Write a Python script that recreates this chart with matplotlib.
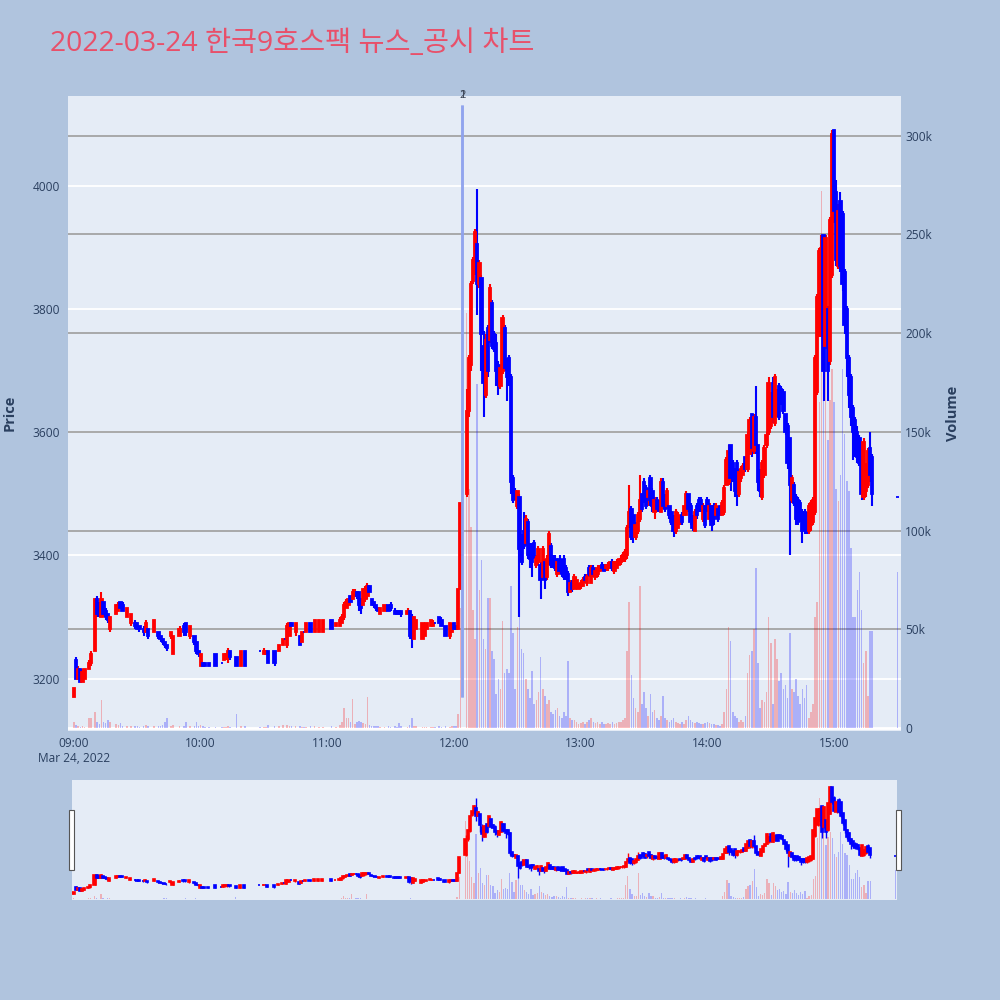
import numpy as np
import pandas as pd
import matplotlib
matplotlib.use("Agg")
import matplotlib.pyplot as plt
from matplotlib.patches import Rectangle
from matplotlib.transforms import blended_transform_factory

TITLE = "2022-03-24 한국9호스팩 뉴스_공시 차트"

# 1-minute candles (times with no trade are simply absent)
times = [
    # 09
    "09:00", "09:01", "09:02", "09:03", "09:04", "09:05", "09:07", "09:08", "09:10", "09:11",
    "09:12", "09:13", "09:14", "09:15", "09:16", "09:17", "09:20", "09:21", "09:22", "09:23",
    "09:25", "09:27", "09:29", "09:30", "09:31", "09:33", "09:34", "09:35", "09:38", "09:40",
    "09:41", "09:42", "09:43", "09:44", "09:46", "09:47", "09:50", "09:52", "09:53", "09:55",
    "09:57", "09:58", "09:59",
    # 10
    "10:00", "10:01", "10:02", "10:04", "10:07", "10:10", "10:11", "10:12", "10:13", "10:14",
    "10:17", "10:19", "10:21", "10:28", "10:30", "10:31", "10:32", "10:35", "10:37", "10:39",
    "10:40", "10:41", "10:42", "10:43", "10:45", "10:47", "10:48", "10:49", "10:50", "10:52",
    "10:54", "10:56", "10:58",
    # 11
    "11:02", "11:04", "11:06", "11:07", "11:08", "11:09", "11:10", "11:11", "11:12", "11:13",
    "11:14", "11:15", "11:16", "11:17", "11:18", "11:19", "11:20", "11:21", "11:22", "11:23",
    "11:24", "11:25", "11:27", "11:29", "11:30", "11:32", "11:33", "11:34", "11:35", "11:38",
    "11:39", "11:40", "11:41", "11:42", "11:45", "11:46", "11:47", "11:49", "11:50", "11:51",
    "11:53", "11:54", "11:56", "11:58", "11:59",
    # 12
    "12:00", "12:01", "12:02", "12:03",
    "12:06", "12:07", "12:08", "12:09", "12:10", "12:11", "12:12", "12:13", "12:14", "12:15",
    "12:16", "12:17", "12:18", "12:19", "12:20", "12:21", "12:22", "12:23", "12:24", "12:25",
    "12:26", "12:27", "12:28", "12:29", "12:30", "12:31", "12:32", "12:33", "12:34", "12:35",
    "12:36", "12:37", "12:38", "12:39", "12:40", "12:41", "12:42", "12:43", "12:44", "12:45",
    "12:46", "12:47", "12:48", "12:49", "12:50", "12:51", "12:52", "12:53", "12:54", "12:55",
    "12:56", "12:57", "12:58", "12:59",
    # 13
    "13:00", "13:01", "13:02", "13:03", "13:04", "13:05", "13:06", "13:07", "13:08", "13:09",
    "13:10", "13:11", "13:12", "13:13", "13:14", "13:15", "13:16", "13:17", "13:18", "13:19",
    "13:20", "13:21", "13:22", "13:23", "13:24", "13:25", "13:26", "13:27", "13:28", "13:29",
    "13:30", "13:31", "13:32", "13:33", "13:34", "13:35", "13:36", "13:37", "13:38", "13:39",
    "13:40", "13:41", "13:42", "13:43", "13:44", "13:45", "13:46", "13:47", "13:48", "13:49",
    "13:50", "13:51", "13:52", "13:53", "13:54", "13:55", "13:56", "13:57", "13:58", "13:59",
    # 14
    "14:00", "14:01", "14:02", "14:03", "14:04", "14:05", "14:06", "14:07", "14:08", "14:09",
    "14:10", "14:11", "14:12", "14:13", "14:14", "14:15", "14:16", "14:17", "14:18", "14:19",
    "14:20", "14:21", "14:22", "14:23", "14:24", "14:25", "14:26", "14:27", "14:28", "14:29",
    "14:30", "14:31", "14:32", "14:33", "14:34", "14:35", "14:36", "14:37", "14:38", "14:39",
    "14:40", "14:41", "14:42", "14:43", "14:44", "14:45", "14:46", "14:47", "14:48", "14:49",
    "14:50", "14:51", "14:52", "14:53", "14:54", "14:55", "14:56", "14:57", "14:58", "14:59",
    # 15
    "15:00", "15:01", "15:02", "15:03", "15:04", "15:05", "15:06", "15:07", "15:08", "15:09",
    "15:10", "15:11", "15:12", "15:13", "15:14", "15:15", "15:16", "15:17", "15:18", "15:30",
]

opens = [
    # 09
    3170, 3230, 3200, 3215, 3195, 3200, 3215, 3225, 3245, 3330,
    3320, 3300, 3325, 3310, 3305, 3280, 3305, 3310, 3325, 3320,
    3300, 3290, 3290, 3290, 3285, 3280, 3275, 3280, 3275, 3275,
    3270, 3265, 3260, 3255, 3270, 3240, 3270, 3285, 3290, 3270,
    3270, 3260, 3245,
    # 10
    3220, 3225, 3225, 3225, 3240, 3225, 3230, 3235, 3235, 3245,
    3235, 3220, 3245, 3245, 3240, 3240, 3245, 3245, 3245, 3255,
    3265, 3255, 3270, 3290, 3275, 3270, 3260, 3275, 3275, 3290,
    3275, 3275, 3275,
    # 11
    3295, 3285, 3285, 3290, 3300, 3315, 3320, 3335, 3330, 3335,
    3340, 3340, 3330, 3320, 3330, 3335, 3350, 3330, 3325, 3320,
    3315, 3305, 3310, 3320, 3320, 3310, 3310, 3310, 3310, 3305,
    3310, 3300, 3265, 3280, 3265, 3270, 3280, 3285, 3285, 3290,
    3300, 3295, 3285, 3270, 3275,
    # 12
    3290, 3285, 3280, 3345,
    3500, 3635, 3710, 3845, 3860, 3905, 3840, 3850, 3740, 3660,
    3770, 3750, 3810, 3760, 3745, 3710, 3675, 3700, 3770, 3715,
    3720, 3690, 3525, 3505, 3480, 3495, 3430, 3440, 3420, 3455,
    3410, 3415, 3420, 3385, 3390, 3385, 3365, 3390, 3365, 3390,
    3415, 3395, 3395, 3370, 3395, 3390, 3395, 3380, 3370, 3340,
    3355, 3345, 3350, 3345,
    # 13
    3350, 3350, 3365, 3355, 3380, 3355, 3380, 3365, 3370, 3375,
    3385, 3385, 3380, 3380, 3380, 3390, 3375, 3380, 3385, 3390,
    3395, 3395, 3400, 3450, 3475, 3465, 3430, 3440, 3460, 3500,
    3520, 3510, 3495, 3525, 3505, 3470, 3490, 3485, 3470, 3520,
    3495, 3480, 3480, 3470, 3460, 3440, 3445, 3455, 3465, 3465,
    3465, 3500, 3480, 3460, 3440, 3480, 3490, 3490, 3460, 3480,
    # 14
    3490, 3460, 3480, 3480, 3465, 3475, 3480, 3465, 3470, 3515,
    3520, 3580, 3550, 3540, 3550, 3500, 3525, 3530, 3560, 3540,
    3565, 3630, 3570, 3625, 3580, 3530, 3495, 3530, 3580, 3600,
    3610, 3680, 3615, 3630, 3675, 3670, 3665, 3630, 3610, 3590,
    3490, 3515, 3495, 3490, 3485, 3470, 3470, 3465, 3440, 3450,
    3455, 3470, 3665, 3760, 3790, 3920, 3740, 3800, 3715, 3855,
    # 15
    4090, 3990, 3870, 3975, 3955, 3860, 3800, 3720, 3690, 3640,
    3620, 3600, 3590, 3560, 3495, 3505, 3515, 3575, 3560, 3495,
]

highs = [
    # 09
    3185, 3235, 3220, 3215, 3215, 3215, 3230, 3245, 3330, 3335,
    3325, 3340, 3325, 3315, 3305, 3300, 3320, 3325, 3325, 3325,
    3315, 3305, 3295, 3290, 3285, 3285, 3295, 3280, 3295, 3275,
    3270, 3265, 3260, 3255, 3275, 3270, 3285, 3290, 3290, 3285,
    3270, 3260, 3245,
    # 10
    3240, 3225, 3225, 3225, 3240, 3225, 3240, 3240, 3250, 3245,
    3235, 3245, 3245, 3245, 3250, 3245, 3245, 3245, 3255, 3265,
    3265, 3290, 3290, 3290, 3290, 3270, 3275, 3275, 3290, 3290,
    3295, 3295, 3295,
    # 11
    3295, 3290, 3300, 3305, 3325, 3330, 3330, 3335, 3345, 3345,
    3340, 3340, 3330, 3345, 3350, 3355, 3350, 3330, 3325, 3320,
    3315, 3315, 3320, 3320, 3325, 3315, 3310, 3310, 3310, 3315,
    3310, 3305, 3300, 3295, 3290, 3290, 3290, 3295, 3295, 3290,
    3300, 3300, 3285, 3290, 3290,
    # 12
    3290, 3285, 3345, 3485,
    3670, 3725, 3845, 3885, 3930, 3995, 3880, 3855, 3765, 3760,
    3775, 3840, 3815, 3765, 3760, 3715, 3710, 3790, 3775, 3720,
    3725, 3695, 3530, 3510, 3505, 3500, 3435, 3470, 3465, 3460,
    3420, 3420, 3425, 3400, 3415, 3390, 3415, 3395, 3400, 3440,
    3420, 3400, 3400, 3395, 3400, 3395, 3400, 3385, 3375, 3360,
    3360, 3370, 3365, 3355,
    # 13
    3360, 3365, 3370, 3370, 3385, 3385, 3385, 3380, 3385, 3385,
    3390, 3385, 3385, 3390, 3390, 3395, 3390, 3395, 3395, 3400,
    3405, 3410, 3450, 3515, 3480, 3465, 3455, 3470, 3530, 3500,
    3525, 3515, 3510, 3530, 3510, 3495, 3495, 3490, 3525, 3525,
    3500, 3510, 3480, 3470, 3465, 3475, 3470, 3465, 3470, 3480,
    3505, 3500, 3485, 3465, 3475, 3485, 3495, 3495, 3485, 3480,
    # 14
    3495, 3485, 3480, 3485, 3485, 3480, 3480, 3490, 3515, 3560,
    3580, 3580, 3555, 3540, 3555, 3540, 3545, 3550, 3560, 3600,
    3625, 3630, 3630, 3675, 3580, 3540, 3555, 3580, 3600, 3690,
    3665, 3690, 3695, 3670, 3680, 3675, 3670, 3630, 3615, 3590,
    3530, 3520, 3500, 3495, 3490, 3475, 3475, 3470, 3485, 3490,
    3495, 3725, 3825, 3900, 3920, 3920, 3920, 3805, 3950, 4090,
    # 15
    4090, 4010, 3970, 3990, 3960, 3865, 3805, 3725, 3695, 3645,
    3625, 3610, 3595, 3560, 3590, 3550, 3575, 3600, 3565, 3495,
]

lows = [
    # 09
    3170, 3200, 3200, 3195, 3195, 3200, 3215, 3220, 3245, 3300,
    3300, 3300, 3300, 3295, 3290, 3275, 3305, 3310, 3315, 3310,
    3300, 3285, 3280, 3280, 3275, 3270, 3275, 3265, 3275, 3265,
    3260, 3255, 3250, 3245, 3265, 3240, 3270, 3270, 3270, 3265,
    3255, 3240, 3235,
    # 10
    3220, 3220, 3220, 3220, 3220, 3225, 3230, 3230, 3225, 3230,
    3220, 3220, 3220, 3245, 3240, 3240, 3225, 3220, 3245, 3255,
    3265, 3250, 3270, 3285, 3270, 3255, 3260, 3275, 3275, 3275,
    3275, 3275, 3275,
    # 11
    3280, 3285, 3285, 3290, 3295, 3315, 3320, 3325, 3330, 3335,
    3330, 3310, 3305, 3320, 3325, 3330, 3340, 3320, 3315, 3310,
    3310, 3305, 3310, 3310, 3310, 3305, 3305, 3305, 3300, 3305,
    3265, 3250, 3265, 3280, 3265, 3270, 3280, 3285, 3285, 3290,
    3290, 3285, 3270, 3265, 3275,
    # 12
    3280, 3280, 3280, 3345,
    3495, 3625, 3700, 3840, 3855, 3790, 3835, 3700, 3625, 3655,
    3690, 3745, 3735, 3730, 3675, 3660, 3670, 3695, 3700, 3650,
    3675, 3500, 3485, 3490, 3475, 3300, 3385, 3410, 3415, 3395,
    3380, 3365, 3395, 3380, 3385, 3330, 3360, 3345, 3360, 3385,
    3380, 3380, 3375, 3365, 3370, 3365, 3360, 3360, 3335, 3340,
    3340, 3345, 3345, 3345,
    # 13
    3345, 3350, 3355, 3350, 3365, 3355, 3365, 3360, 3365, 3375,
    3375, 3375, 3375, 3375, 3380, 3375, 3370, 3380, 3385, 3385,
    3390, 3390, 3395, 3445, 3425, 3420, 3425, 3435, 3455, 3470,
    3485, 3475, 3480, 3480, 3470, 3460, 3470, 3470, 3470, 3475,
    3470, 3475, 3460, 3450, 3430, 3435, 3445, 3450, 3450, 3465,
    3465, 3470, 3450, 3440, 3440, 3460, 3470, 3470, 3455, 3445,
    # 14
    3470, 3455, 3440, 3450, 3460, 3455, 3465, 3465, 3465, 3515,
    3515, 3505, 3520, 3495, 3480, 3495, 3520, 3530, 3535, 3535,
    3565, 3560, 3565, 3565, 3505, 3495, 3490, 3525, 3575, 3595,
    3605, 3615, 3610, 3625, 3620, 3645, 3630, 3595, 3540, 3400,
    3485, 3480, 3450, 3450, 3455, 3420, 3435, 3435, 3435, 3440,
    3450, 3465, 3660, 3755, 3755, 3650, 3735, 3650, 3710, 3850,
    # 15
    3940, 3870, 3865, 3860, 3830, 3760, 3690, 3640, 3610, 3555,
    3560, 3550, 3545, 3490, 3490, 3495, 3510, 3520, 3480, 3495,
]

closes = [
    # 09
    3185, 3200, 3215, 3195, 3210, 3215, 3225, 3240, 3330, 3305,
    3305, 3330, 3305, 3300, 3295, 3300, 3320, 3320, 3315, 3310,
    3315, 3305, 3285, 3280, 3280, 3275, 3290, 3270, 3295, 3270,
    3265, 3260, 3255, 3250, 3275, 3270, 3280, 3275, 3275, 3285,
    3260, 3245, 3240,
    # 10
    3240, 3220, 3220, 3220, 3220, 3225, 3240, 3240, 3245, 3235,
    3220, 3245, 3220, 3245, 3245, 3245, 3225, 3225, 3255, 3265,
    3265, 3285, 3290, 3285, 3290, 3255, 3275, 3275, 3290, 3275,
    3295, 3295, 3295,
    # 11
    3280, 3290, 3295, 3300, 3320, 3325, 3330, 3325, 3340, 3340,
    3335, 3320, 3315, 3345, 3345, 3350, 3340, 3320, 3320, 3315,
    3310, 3315, 3320, 3310, 3315, 3305, 3305, 3305, 3305, 3310,
    3270, 3280, 3300, 3295, 3290, 3285, 3290, 3295, 3290, 3290,
    3290, 3285, 3270, 3290, 3285,
    # 12
    3280, 3280, 3345, 3485,
    3635, 3720, 3840, 3880, 3925, 3840, 3875, 3760, 3680, 3750,
    3700, 3835, 3740, 3735, 3700, 3680, 3705, 3785, 3705, 3690,
    3680, 3520, 3490, 3495, 3505, 3410, 3390, 3415, 3460, 3400,
    3395, 3390, 3400, 3395, 3410, 3360, 3410, 3360, 3395, 3435,
    3385, 3385, 3380, 3390, 3375, 3370, 3365, 3365, 3340, 3355,
    3345, 3365, 3360, 3350,
    # 13
    3355, 3360, 3360, 3365, 3370, 3380, 3370, 3375, 3380, 3380,
    3380, 3375, 3385, 3385, 3390, 3380, 3390, 3390, 3395, 3395,
    3400, 3405, 3445, 3470, 3430, 3430, 3450, 3465, 3490, 3475,
    3490, 3480, 3505, 3490, 3480, 3490, 3475, 3475, 3520, 3480,
    3475, 3505, 3465, 3455, 3440, 3470, 3465, 3460, 3455, 3480,
    3500, 3475, 3455, 3445, 3470, 3465, 3475, 3475, 3480, 3450,
    # 14
    3475, 3480, 3450, 3460, 3480, 3460, 3465, 3485, 3510, 3555,
    3570, 3525, 3530, 3505, 3500, 3535, 3540, 3545, 3540, 3595,
    3620, 3575, 3625, 3580, 3520, 3505, 3550, 3575, 3595, 3680,
    3660, 3625, 3690, 3665, 3625, 3650, 3635, 3600, 3550, 3515,
    3525, 3485, 3460, 3455, 3460, 3440, 3445, 3440, 3480, 3485,
    3490, 3720, 3820, 3895, 3900, 3700, 3915, 3700, 3945, 4085,
    # 15
    3960, 3880, 3960, 3870, 3840, 3775, 3720, 3660, 3625, 3600,
    3575, 3560, 3550, 3500, 3585, 3545, 3570, 3530, 3500, 3495,
]

volumes = [
    # 09
    3000, 1500, 800, 600, 900, 700, 5000, 5000, 8000, 3000,
    2000, 14000, 3000, 2500, 4000, 3000, 2000, 1500, 2500, 1200,
    800, 1200, 1000, 900, 700, 900, 1500, 1200, 1000, 1000,
    800, 1500, 3000, 5000, 800, 1500, 900, 1000, 3000, 1200,
    1000, 3000, 1000,
    # 10
    1500, 800, 600, 500, 600, 300, 500, 700, 900, 600,
    7000, 800, 900, 300, 700, 500, 1300, 800, 1200, 1500,
    200, 1500, 1000, 800, 900, 800, 700, 300, 600, 1000,
    800, 500, 600,
    # 11
    1200, 600, 1500, 3000, 10000, 5000, 5000, 3000, 14500, 2000,
    3000, 3500, 3000, 2500, 2000, 15500, 1500, 1200, 1000, 800,
    800, 600, 500, 800, 700, 900, 600, 2500, 800, 700,
    1500, 5000, 1200, 800, 700, 600, 500, 400, 500, 300,
    800, 700, 900, 600, 1000,
    # 12
    900, 800, 7000, 61000,
    210000, 121000, 102000, 60000, 45000, 174000, 70000, 85000, 45000, 40000,
    66000, 66000, 39000, 35000, 17000, 25000, 20000, 54000, 28000, 30000,
    28000, 72000, 48000, 20000, 51000, 82000, 40000, 38000, 25000, 20000,
    15000, 29000, 12000, 14000, 18000, 36000, 20000, 16000, 12000, 14000,
    8000, 7000, 9000, 10000, 6000, 5000, 8000, 6000, 34000, 5000,
    4000, 4000, 3000, 2000,
    # 13
    2500, 3000, 2000, 3000, 4000, 5000, 3000, 2500, 3000, 2000,
    3000, 2000, 2000, 2500, 2000, 3000, 2000, 2500, 3000, 3000,
    4000, 5000, 39000, 64000, 27000, 15000, 10000, 8000, 72000, 12000,
    18000, 10000, 6000, 17000, 8000, 9000, 5000, 4000, 6000, 16000,
    5000, 4000, 3000, 4000, 5000, 3000, 2500, 2000, 3000, 2000,
    4000, 6000, 4000, 3000, 2500, 3000, 2500, 2000, 2000, 2500,
    # 14
    3000, 2500, 2000, 2000, 1500, 1500, 1200, 2000, 8000, 20000,
    51000, 44000, 8000, 6000, 5000, 3000, 4000, 3000, 6000, 28000,
    37000, 39000, 50000, 81000, 33000, 10000, 14000, 13000, 18000, 56000,
    43000, 12000, 45000, 35000, 24000, 28000, 20000, 22000, 15000, 48000,
    20000, 18000, 25000, 16000, 12000, 20000, 15000, 22000, 5000, 8000,
    12000, 56000, 64000, 165000, 272000, 249000, 233000, 146000, 166000, 182000,
    # 15
    165000, 121000, 115000, 128000, 182000, 149000, 125000, 120000, 91000, 56000,
    56000, 70000, 79000, 60000, 33000, 39000, 16000, 49000, 49000, 79000,
]

news_times = ["12:04", "12:04"]
news_labels = ["1", "2"]

x_tick_times = ["09:00", "10:00", "11:00", "12:00", "13:00", "14:00", "15:00"]
date_label = "Mar 24, 2022"
price_ticks = [3200, 3400, 3600, 3800, 4000]
volume_ticks = [0, 50000, 100000, 150000, 200000, 250000, 300000]
volume_tick_labels = ["0", "50k", "100k", "150k", "200k", "250k", "300k"]

BG = "#b0c4de"
PLOT_BG = "#e5ecf6"
TXT = "#2a3f5f"
UP, DOWN = "#ff0000", "#0000ff"
plt.rcParams["font.family"] = ["Open Sans", "Noto Sans CJK KR", "DejaVu Sans"]


def to_minutes(hhmm):
    t = pd.to_datetime(pd.Series(hhmm), format="%H:%M")
    return ((t.dt.hour - 9) * 60 + t.dt.minute).to_numpy()


df = pd.DataFrame({"time": times, "open": opens, "high": highs,
                   "low": lows, "close": closes, "volume": volumes})
df["m"] = to_minutes(df["time"])
df["color"] = np.where(df["close"] > df["open"], UP, DOWN)

P_LIM = (3115, 4146)
V_LIM = (-1500, 320000)


def draw_candles(ax_p, ax_v, body_w, wick_lw, edge_lw, bar_w):
    ax_v.bar(df["m"], df["volume"], width=bar_w, color=df["color"],
             alpha=0.25, linewidth=0, zorder=2)
    ax_p.vlines(df["m"], df["low"], df["high"], colors=df["color"],
                linewidth=wick_lw, zorder=3)
    bottom = np.minimum(df["open"], df["close"])
    height = (df["close"] - df["open"]).abs()
    ax_p.bar(df["m"], height, bottom=bottom, width=body_w, color=df["color"],
             edgecolor=df["color"], linewidth=edge_lw, zorder=4)


def clean(ax):
    for s in ax.spines.values():
        s.set_visible(False)


fig = plt.figure(figsize=(10, 10), dpi=100, facecolor=BG)

# main chart: volume axis underneath, price axis on top
rect = [0.068, 0.269, 0.833, 0.635]
ax_v = fig.add_axes(rect)
ax_p = fig.add_axes(rect, sharex=ax_v)
ax_v.set_facecolor(PLOT_BG)
ax_p.patch.set_visible(False)
clean(ax_v)
clean(ax_p)

ax_v.set_xlim(-2.84, 391.7)
ax_p.set_ylim(*P_LIM)
ax_v.set_ylim(*V_LIM)

# grid lines, all below the marks
tr = blended_transform_factory(ax_v.transAxes, ax_p.transData)
for p in price_ticks:
    ax_v.plot([0, 1], [p, p], transform=tr, color="white", lw=1.3, zorder=0.5)
for v in volume_ticks[1:]:
    ax_v.axhline(v, color="#a3a3a3", lw=1.3, zorder=0.6)
ax_v.axhline(0, color="white", lw=2, zorder=0.7)

draw_candles(ax_p, ax_v, body_w=1.1, wick_lw=1.5, edge_lw=1.3, bar_w=0.75)

# news markers
news_m = to_minutes(news_times)
ax_p.vlines(news_m, df["low"].min(), df["high"].max() * 1.01,
            color="#8ea2ee", lw=2, alpha=0.8, zorder=5)
ttr = blended_transform_factory(ax_p.transData, ax_p.transAxes)
for m, lab in zip(news_m, news_labels):
    ax_p.text(m, 1.0, lab, transform=ttr, ha="center", va="center",
              fontsize=8, color="#3b4556")

# ticks
ax_p.set_yticks(price_ticks)
ax_p.set_yticklabels([str(p) for p in price_ticks])
ax_p.tick_params(axis="y", left=True, right=False, length=0, pad=6,
                 labelsize=8.6, labelcolor=TXT)
ax_p.tick_params(axis="x", bottom=False, labelbottom=False)

ax_v.yaxis.tick_right()
ax_v.set_yticks(volume_ticks)
ax_v.set_yticklabels(volume_tick_labels)
ax_v.tick_params(axis="y", length=0, pad=3, labelsize=8.6, labelcolor=TXT)
ax_v.set_xticks(to_minutes(x_tick_times))
xlabels = list(x_tick_times)
xlabels[0] = xlabels[0] + "\n" + date_label
ax_v.set_xticklabels(xlabels)
ax_v.tick_params(axis="x", length=0, pad=4, labelsize=8.6, labelcolor=TXT)

fig.text(0.010, 0.587, "Price", rotation=90, ha="center", va="center",
         fontsize=10.5, fontweight="bold", color=TXT)
fig.text(0.953, 0.587, "Volume", rotation=90, ha="center", va="center",
         fontsize=10.5, fontweight="bold", color=TXT)

fig.text(0.05, 0.9493, TITLE, color="#e8506a", fontsize=20.4,
         ha="left", va="baseline")

# range slider
srect = [0.072, 0.100, 0.825, 0.120]
as_v = fig.add_axes(srect)
as_p = fig.add_axes(srect, sharex=as_v)
as_v.set_facecolor(PLOT_BG)
as_p.patch.set_visible(False)
for a in (as_v, as_p):
    clean(a)
    a.set_xticks([])
    a.set_yticks([])
as_v.set_xlim(-0.7, 390.7)
as_p.set_ylim(*P_LIM)
as_v.set_ylim(*V_LIM)
draw_candles(as_p, as_v, body_w=1.0, wick_lw=1.0, edge_lw=1.2, bar_w=0.6)

for x0 in (0.0685, 0.8955):
    fig.add_artist(Rectangle((x0, 0.130), 0.005, 0.060, transform=fig.transFigure,
                             facecolor="white", edgecolor="#555555", lw=0.8))

fig.savefig("out.png", dpi=100, facecolor=fig.get_facecolor())
